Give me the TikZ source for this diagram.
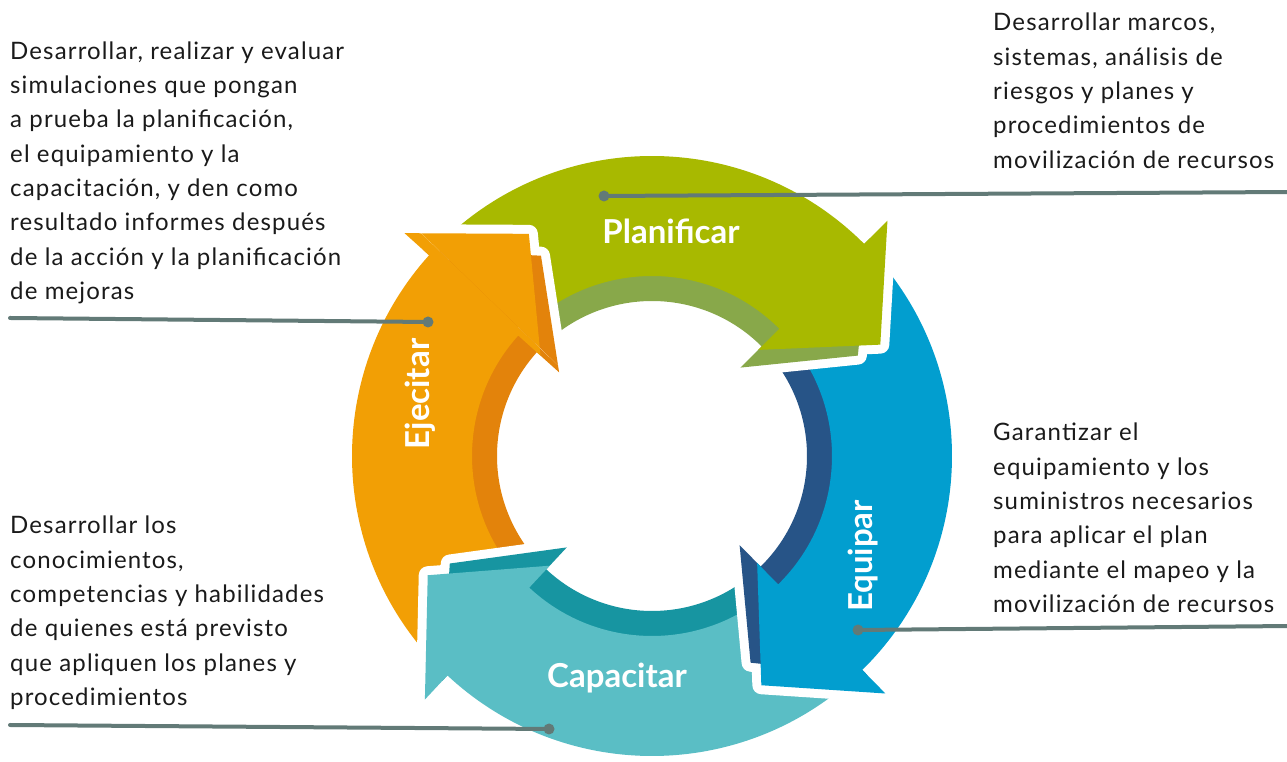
\documentclass[tikz,border=0pt]{standalone}
\usepackage{fontspec}
\setmainfont{Lato}
\newfontfamily\descfont[LetterSpace=4.8]{Lato}
\definecolor{grnF}{HTML}{A8B900}
\definecolor{grnB}{HTML}{88A84A}
\definecolor{orgF}{HTML}{F29F05}
\definecolor{orgB}{HTML}{E3830B}
\definecolor{bluF}{HTML}{029ECF}
\definecolor{bluB}{HTML}{275487}
\definecolor{tealF}{HTML}{5ABEC5}
\definecolor{tealB}{HTML}{1795A1}
\definecolor{leadc}{HTML}{627A77}
\definecolor{txtc}{HTML}{1A1A1A}
% #1 = head base angle, #2 = tail angle
\newcommand\ringfront[2]{(#2:300) arc[start angle=#2,end angle=#1,radius=300] -- (#1:333) -- (#1-19:254) -- (#1:150) -- (#1:180) arc[start angle=#1,end angle=#2,radius=180] -- cycle}
\newcommand\ringback[2]{(#2:275) arc[start angle=#2,end angle=#1,radius=275] -- (#1:308) -- (#1-19:229) -- (#1:125) -- (#1:155) arc[start angle=#1,end angle=#2,radius=155] -- cycle}
\newcommand\ringarrow[4]{%
  \path[ringgap] \ringback{#1}{#2};
  \path[ringgap] \ringfront{#1}{#2};
  \fill[#4] \ringback{#1}{#2};
  \fill[#3] \ringfront{#1}{#2};
}
\tikzset{
  ringgap/.style={draw=white,line width=18pt,line join=round},
  desc/.style={anchor=north west,inner sep=0pt,align=left,text=txtc,font=\descfont\fontsize{24}{34.3}\selectfont},
  phasetext/.style={text=white,font=\fontsize{33}{33}\selectfont\bfseries,inner sep=0pt,anchor=base},
  leader/.style={draw=leadc,line width=4pt,line cap=round},
  dotmark/.style={circle,fill=leadc,inner sep=0pt,minimum size=11pt}
}
\begin{document}
\begin{tikzpicture}[x=1pt,y=1pt]
\useasboundingbox (0,0) rectangle (1287,762);
\begin{scope}[shift={(652,306)}]
  \ringarrow{138}{221}{orgF}{orgB}
  \ringarrow{-133}{-51.5}{tealF}{tealB}
  \ringarrow{-45.5}{39}{bluF}{bluB}
  \ringarrow{45}{132}{grnF}{grnB}
  \begin{scope}
    \clip (0,0) -- (112:420) arc[start angle=112,end angle=136,radius=420] -- cycle;
    \ringarrow{138}{221}{orgF}{orgB}
  \end{scope}
\end{scope}

% phase labels
\node[phasetext] (lplan) at (671,518) {Planificar};
\node[phasetext] (lcap) at (617,74) {Capacitar};
\node[phasetext,rotate=90] (lejec) at (429,368) {Ejecitar};
\node[phasetext,rotate=90] (lequip) at (872,206) {Equipar};

% descriptions
\node[desc] (tejec) at (10,720.5) {Desarrollar, realizar y evaluar\\simulaciones que pongan\\a prueba la planificación,\\el equipamiento y la\\capacitación, y den como\\resultado informes después\\de la acción y la planificación\\de mejoras};
\node[desc] (tplan) at (993,749) {Desarrollar marcos,\\sistemas, análisis de\\riesgos y planes y\\procedimientos de\\movilización de recursos};
\node[desc] (tequip) at (993,339) {Garantizar el\\equipamiento y los\\suministros necesarios\\para aplicar el plan\\mediante el mapeo y la\\movilización de recursos};
\node[desc] (tcap) at (10,246) {Desarrollar los\\conocimientos,\\competencias y habilidades\\de quienes está previsto\\que apliquen los planes y\\procedimientos};

% leaders
\node[dotmark] (dplan) at (604,566) {};
\coordinate (eplan) at (1290,570);
\node[dotmark] (dejec) at (428,440) {};
\coordinate (eejec) at (10,444);
\node[dotmark] (dequip) at (858,132) {};
\coordinate (eequip) at (1290,136);
\node[dotmark] (dcap) at (549,33) {};
\coordinate (ecap) at (10,37);
\draw[leader] (dplan.center) -- (eplan);
\draw[leader] (dejec.center) -- (eejec);
\draw[leader] (dequip.center) -- (eequip);
\draw[leader] (dcap.center) -- (ecap);
\end{tikzpicture}
\end{document}
